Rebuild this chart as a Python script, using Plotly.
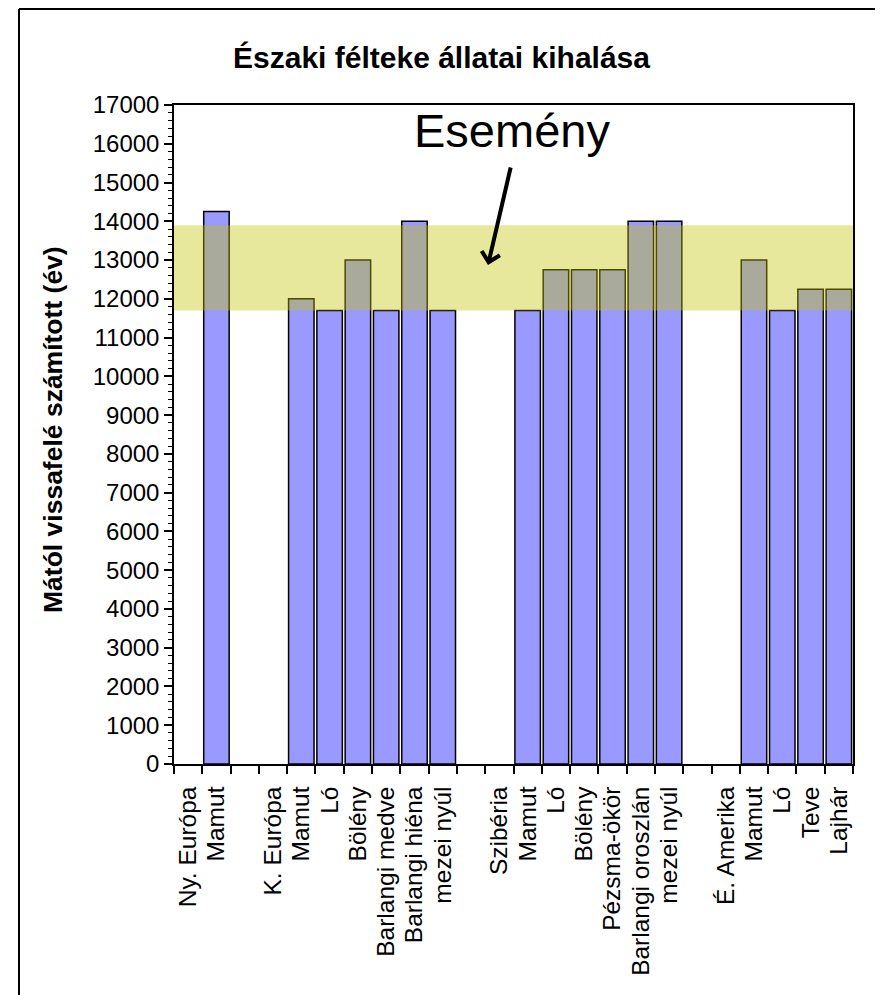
import plotly.graph_objects as go

# ---- data ----
labels = ["Ny. Európa", "Mamut", "", "K. Európa", "Mamut", "Ló", "Bölény",
          "Barlangi medve", "Barlangi hiéna", "mezei nyúl", "", "Szibéria",
          "Mamut", "Ló", "Bölény", "Pézsma-ökör", "Barlangi oroszlán",
          "mezei nyúl", "", "É. Amerika", "Mamut", "Ló", "Teve", "Lajhár"]
values = [None, 14250, None, None, 12000, 11700, 13000, 11700, 14000, 11700,
          None, None, 11700, 12750, 12750, 12750, 14000, 14000, None, None,
          13000, 11700, 12250, 12250]
event_low = 11700
event_high = 13900
y_ticks = list(range(0, 17001, 1000))
y_ticktext = [str(v) for v in y_ticks]

title_text = "Északi félteke állatai kihalása"
ytitle_text = "Mától vissafelé számított (év)"
event_text = "Esemény"

FONT = "Liberation Sans, Arial, sans-serif"

pos = list(range(len(labels)))
boundaries = [p - 0.5 for p in pos] + [pos[-1] + 0.5]

fig = go.Figure()
fig.add_trace(go.Bar(
    x=pos, y=values,
    marker=dict(color="#9999ff", line=dict(color="black", width=1.5)),
    width=0.9,
    hoverinfo="y",
))

# page body has an 8px margin; work in screen pixel coords and offset
OFF = 8
W, H = 883 - OFF, 995 - OFF
L, T = 174 - OFF, 105 - OFF
pw, ph = 679, 659
R, B = W - L - pw, H - T - ph

def px_x(px):
    return (px - OFF - L) / pw

def px_y(py):
    return (T + ph - (py - OFF)) / ph

fig.update_layout(
    width=W, height=H,
    margin=dict(l=L, r=R, t=T, b=B, pad=0),
    paper_bgcolor="white", plot_bgcolor="white",
    showlegend=False,
    font=dict(family=FONT, color="black"),
    title=dict(text="<b>" + title_text + "</b>", x=0.5 - 4 / W, xanchor="center",
               y=1 - (57 - OFF) / H, yanchor="middle",
               font=dict(size=30, family=FONT, color="black")),
    bargap=0.1,
    xaxis=dict(
        range=[-0.5, len(labels) - 0.5],
        tickmode="array", tickvals=pos, ticktext=labels,
        tickangle=-90, ticks="outside", ticklen=11,
        tickcolor="rgba(0,0,0,0)",
        tickfont=dict(size=24.5, family=FONT, color="black"),
        minor=dict(tickmode="array", tickvals=boundaries, ticks="outside",
                   ticklen=8, tickcolor="black", tickwidth=1.5),
        showline=True, linecolor="black", linewidth=1.5, mirror=True,
        showgrid=False, zeroline=False, fixedrange=True,
    ),
    yaxis=dict(
        range=[0, 17000],
        tickmode="array", tickvals=y_ticks, ticktext=y_ticktext,
        ticks="outside", ticklen=8, tickwidth=1.5, tickcolor="black",
        tickfont=dict(size=24, family=FONT, color="black"),
        minor=dict(dtick=200, ticks="outside", ticklen=4,
                   tickcolor="black", tickwidth=1),
        showline=True, linecolor="black", linewidth=1.5, mirror=True,
        showgrid=False, zeroline=False, fixedrange=True,
    ),
)

# event band
fig.add_shape(type="rect", xref="paper", yref="y", x0=0, x1=1,
              y0=event_low, y1=event_high,
              fillcolor="rgba(196,196,0,0.39)", line=dict(width=0),
              layer="above")

# outer frame (top & left only)
fx, fyt, fyb, fxr = px_x(19), px_y(OFF + 1), px_y(995), px_x(883)
fig.add_shape(type="line", xref="paper", yref="paper",
              x0=fx, x1=fx, y0=fyb, y1=fyt, line=dict(color="black", width=2))
fig.add_shape(type="line", xref="paper", yref="paper",
              x0=fx, x1=fxr, y0=fyt, y1=fyt, line=dict(color="black", width=2))

# y-axis title
fig.add_annotation(text="<b>" + ytitle_text + "</b>", xref="paper", yref="paper",
                   x=px_x(53), y=px_y(430), showarrow=False, textangle=-90,
                   xanchor="center", yanchor="middle",
                   font=dict(size=26.5, family=FONT, color="black"))

# event label and arrow
fig.add_annotation(text=event_text, xref="paper", yref="paper",
                   x=px_x(512), y=px_y(131), showarrow=False,
                   xanchor="center", yanchor="middle",
                   font=dict(size=47, family=FONT, color="black"))
fig.add_annotation(text="", xref="paper", yref="paper",
                   x=px_x(488), y=px_y(265), ax=23, ay=-99,
                   showarrow=True, arrowhead=4, arrowsize=0.9, arrowwidth=4,
                   arrowcolor="black")

fig.write_html("out.html")
